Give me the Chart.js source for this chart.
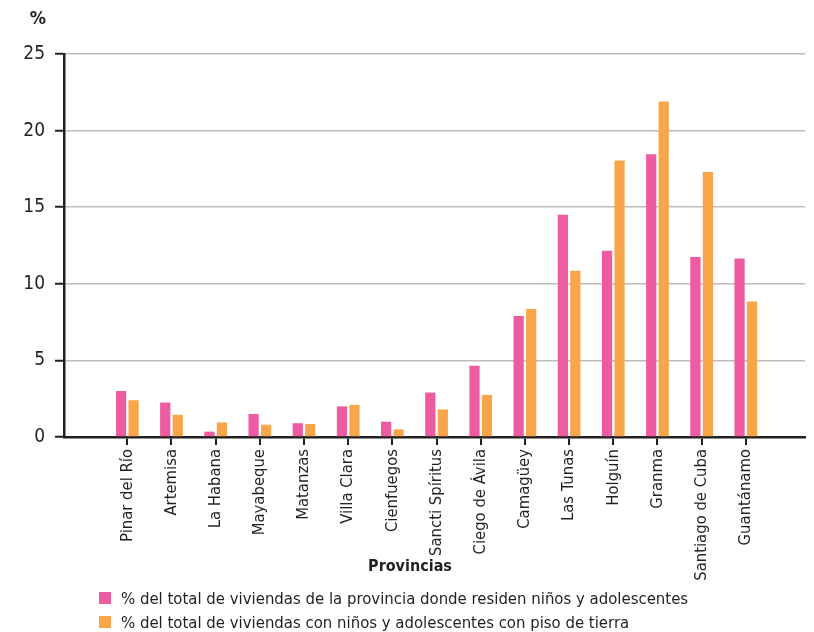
<!DOCTYPE html>
<html>
<head>
<meta charset="utf-8">
<script src="https://cdn.jsdelivr.net/npm/chart.js@4"></script>
<style>
  body { margin: 0; background: #fff; }
  #wrap { position: relative; width: 814px; height: 632px; }
  #legend { position: absolute; left: 99px; top: 586px; font-family: 'Liberation Sans Narrow', 'DejaVu Sans Condensed', sans-serif; font-size: 16.6px; color: #231f20; }
  .item { display: flex; align-items: center; height: 24px; white-space: nowrap; }
  .box { width: 12px; height: 12px; margin-right: 10px; }
</style>
</head>
<body>
<div id="wrap">
  <canvas id="chart" width="814" height="632"></canvas>
  <div id="legend"></div>
</div>
<script>
// Data
const provinces = ['Pinar del Río', 'Artemisa', 'La Habana', 'Mayabeque', 'Matanzas', 'Villa Clara', 'Cienfuegos',
  'Sancti Spíritus', 'Ciego de Ávila', 'Camagüey', 'Las Tunas', 'Holguín', 'Granma', 'Santiago de Cuba', 'Guantánamo'];
const pctViviendas = [3.0, 2.25, 0.35, 1.5, 0.9, 2.0, 1.0, 2.9, 4.65, 7.9, 14.5, 12.15, 18.45, 11.75, 11.65];
const pctPisoTierra = [2.4, 1.45, 0.95, 0.8, 0.85, 2.1, 0.5, 1.8, 2.75, 8.35, 10.85, 18.05, 21.9, 17.3, 8.85];
const yTicks = [0, 5, 10, 15, 20, 25];
const seriesNames = [
  '% del total de viviendas de la provincia donde residen niños y adolescentes',
  '% del total de viviendas con niños y adolescentes con piso de tierra'
];

const FONT = "'Liberation Sans Narrow', 'DejaVu Sans Condensed', sans-serif";
const INK = '#231f20';
const PINK = '#ee5ba1';
const ORANGE = '#f9a64b';

// Extra texts: "%" above the y axis and "Provincias" under the x axis
const extraText = {
  id: 'extraText',
  afterDraw(chart) {
    const ctx = chart.ctx;
    const y = chart.scales.y;
    ctx.save();
    ctx.fillStyle = INK;
    ctx.font = 'bold 18px ' + FONT;
    ctx.textAlign = 'right';
    ctx.textBaseline = 'middle';
    ctx.fillText('%', y.right - 18, 19);
    ctx.font = 'bold 16px ' + FONT;
    ctx.textAlign = 'center';
    ctx.fillText('Provincias', 410, 567);
    ctx.restore();
  }
};

const chart = new Chart(document.getElementById('chart'), {
  type: 'bar',
  data: {
    datasets: [
      { label: seriesNames[0], data: pctViviendas.map((v, i) => ({ x: i, y: v })), backgroundColor: PINK },
      { label: seriesNames[1], data: pctPisoTierra.map((v, i) => ({ x: i, y: v })), backgroundColor: ORANGE }
    ]
  },
  options: {
    responsive: false,
    animation: false,
    categoryPercentage: 0.566,
    barPercentage: 0.82,
    layout: { padding: { top: 54, right: 9, bottom: 45, left: 0 } },
    plugins: {
      legend: { display: false },
      tooltip: { enabled: false }
    },
    scales: {
      x: {
        type: 'linear',
        offset: false,
        min: -1.433,
        max: 15.34,
        afterBuildTicks: s => { s.ticks = provinces.map((_, i) => ({ value: i })); },
        afterFit: s => { s.height = 150; },
        ticks: {
          autoSkip: false,
          minRotation: 90,
          maxRotation: 90,
          padding: 4,
          color: INK,
          font: { family: FONT, size: 16.5 },
          callback: v => provinces[v]
        },
        grid: { offset: false, drawOnChartArea: false, tickLength: 8, color: INK, lineWidth: 2 },
        border: { color: INK, width: 2.5 }
      },
      y: {
        min: 0,
        max: 25,
        afterBuildTicks: s => { s.ticks = yTicks.map(v => ({ value: v })); },
        afterFit: s => { s.width = 64; },
        ticks: {
          padding: 10,
          color: INK,
          font: { family: FONT, size: 19 }
        },
        grid: { color: '#bdbdbd', lineWidth: 1.5, tickColor: INK, tickLength: 9, tickWidth: 2 },
        border: { color: INK, width: 2.5 }
      }
    }
  },
  plugins: [extraText]
});

// HTML legend
const legend = document.getElementById('legend');
chart.data.datasets.forEach(ds => {
  const row = document.createElement('div');
  row.className = 'item';
  row.innerHTML = `<span class="box" style="background:${ds.backgroundColor}"></span><span>${ds.label}</span>`;
  legend.appendChild(row);
});
</script>
</body>
</html>
